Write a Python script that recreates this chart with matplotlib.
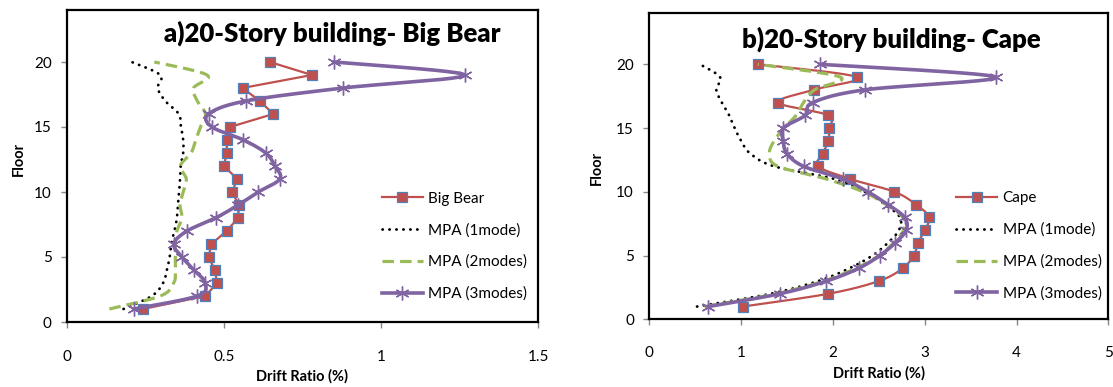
import numpy as np
import matplotlib
matplotlib.use("Agg")
import matplotlib.pyplot as plt
from matplotlib.lines import Line2D

plt.rcParams['font.family'] = ['Lato', 'DejaVu Sans']

floors = list(range(1, 21))

# a) Big Bear (floor 1 .. 20)
bigbear = [0.242, 0.441, 0.478, 0.471, 0.451, 0.46, 0.508, 0.545, 0.547, 0.526,
           0.542, 0.5, 0.508, 0.51, 0.519, 0.657, 0.614, 0.559, 0.78, 0.646]
mpa1_a = [0.18, 0.27, 0.306, 0.318, 0.327, 0.332, 0.342, 0.35, 0.353, 0.357,
          0.36, 0.362, 0.37, 0.37, 0.363, 0.356, 0.313, 0.289, 0.297, 0.206]
mpa2_a = [0.135, 0.297, 0.34, 0.345, 0.345, 0.345, 0.35, 0.366, 0.36, 0.37,
          0.38, 0.361, 0.395, 0.41, 0.425, 0.441, 0.415, 0.403, 0.446, 0.278]
mpa3_a = [0.213, 0.415, 0.44, 0.404, 0.366, 0.34, 0.382, 0.473, 0.545, 0.609,
          0.678, 0.662, 0.633, 0.562, 0.462, 0.451, 0.569, 0.879, 1.266, 0.849]

# b) Cape (floor 1 .. 20)
cape = [1.017, 1.95, 2.50, 2.76, 2.88, 2.93, 3.0, 3.05, 2.905, 2.67,
        2.19, 1.84, 1.89, 1.95, 1.96, 1.95, 1.405, 1.79, 2.26, 1.18]
mpa1_b = [0.52, 1.32, 1.84, 2.18, 2.43, 2.6, 2.72, 2.73, 2.57, 2.35,
          2.02, 1.36, 1.1, 1.0, 0.93, 0.87, 0.79, 0.73, 0.77, 0.55]
mpa2_b = [0.6, 1.38, 1.9, 2.25, 2.5, 2.66, 2.77, 2.76, 2.58, 2.33,
          1.93, 1.40, 1.31, 1.36, 1.47, 1.6, 1.68, 1.8, 2.08, 1.18]
mpa3_b = [0.643, 1.42, 1.93, 2.28, 2.51, 2.68, 2.8, 2.78, 2.60, 2.38,
          2.11, 1.68, 1.5, 1.46, 1.46, 1.70, 1.78, 2.35, 3.777, 1.86]

labels_a = ['Big Bear', 'MPA (1mode)', 'MPA (2modes)', 'MPA (3modes)']
labels_b = ['Cape', 'MPA (1mode)', 'MPA (2modes)', 'MPA (3modes)']
titles = ['a)20-Story building- Big Bear', 'b)20-Story building- Cape']
xticks_a = [0, 0.5, 1, 1.5]
xticks_b = [0, 1, 2, 3, 4, 5]
yticks = [0, 5, 10, 15, 20]

RED = '#C0504D'
BLUE = '#4F81BD'
GREEN = '#9BBB59'
PURPLE = '#8064A2'

W, H = 1113, 387
fig = plt.figure(figsize=(W / 100, H / 100), dpi=100)


def smooth(ax, xs, ys, n=24):
    pts = ax.transData.transform(np.column_stack([xs, ys]))
    P = np.vstack([pts[0], pts, pts[-1]])
    out = []
    t = np.linspace(0, 1, n, endpoint=False)[:, None]
    for i in range(1, len(P) - 2):
        p0, p1, p2, p3 = P[i - 1], P[i], P[i + 1], P[i + 2]
        seg = 0.5 * ((2 * p1) + (-p0 + p2) * t + (2 * p0 - 5 * p1 + 4 * p2 - p3) * t ** 2
                     + (-p0 + 3 * p1 - 3 * p2 + p3) * t ** 3)
        out.append(seg)
    out.append(pts[-1][None])
    out = np.vstack(out)
    d = ax.transData.inverted().transform(out)
    return d[:, 0], d[:, 1]


star = (6, 2, 0)
styles = [
    dict(color=RED, lw=1.6, marker='s', ms=6.5, mfc=RED, mec=BLUE, mew=0.9),
    dict(color='black', lw=2.0, ls=(0, (0.1, 2.4)), dash_capstyle='round'),
    dict(color=GREEN, lw=2.3, ls=(0, (3.6, 1.9))),
    dict(color=PURPLE, lw=2.6, marker=star, ms=10, mec=PURPLE, mew=1.0),
]


def panel(rect, xlim, xticks, series, smooth_flags, labels, title, title_xy,
          leg_anchor, xtick_pad, ytick_pad, xlabel_y, ylabel_xy):
    ax = fig.add_axes(rect)
    ax.set_xlim(*xlim)
    ax.set_ylim(0, 24)
    ax.set_xticks(xticks)
    ax.set_xticklabels([('%g' % v) for v in xticks])
    ax.set_yticks(yticks)
    for sp in ax.spines.values():
        sp.set_linewidth(1.6)
        sp.set_color('black')
    ax.tick_params(axis='x', direction='out', length=4, width=1, color='#888888',
                   pad=xtick_pad, labelsize=11)
    ax.tick_params(axis='y', direction='out', length=4, width=1, color='#888888',
                   pad=ytick_pad, labelsize=11)
    handles = []
    for i, (vals, st, sm) in enumerate(zip(series, styles, smooth_flags)):
        z = 2 + i
        line_kw = {k: v for k, v in st.items() if k in ('color', 'lw', 'ls', 'dash_capstyle')}
        if sm:
            sx, sy = smooth(ax, vals, floors)
        else:
            sx, sy = vals, floors
        ax.plot(sx, sy, zorder=z, solid_capstyle='round', **line_kw)
        if 'marker' in st:
            ax.plot(vals, floors, ls='none', marker=st['marker'], ms=st['ms'],
                    mfc=st.get('mfc', 'none'), mec=st['mec'], mew=st['mew'], zorder=z + 0.5)
        handles.append(Line2D([], [], **st))
    ax.legend(handles, labels, loc='upper left', bbox_to_anchor=leg_anchor,
              frameon=False, fontsize=11, handlelength=2.7, handletextpad=0.35,
              labelspacing=1.14, borderpad=0, borderaxespad=0, numpoints=1)
    ax.text(title_xy[0], title_xy[1], title, transform=ax.transAxes, ha='center',
            va='center', fontsize=18.5, fontweight='heavy')
    ax.set_xlabel('Drift Ratio (%)', fontsize=10.5, fontweight='bold')
    ax.xaxis.set_label_coords(0.5, xlabel_y)
    ax.set_ylabel('Floor', fontsize=10.5, fontweight='bold')
    ax.yaxis.set_label_coords(*ylabel_xy)
    return ax


panel([67 / W, 1 - 322 / H, 471 / W, 312 / H], (0, 1.5), xticks_a,
      [bigbear, mpa1_a, mpa2_a, mpa3_a], [False, True, True, True], labels_a,
      titles[0], (0.563, 0.925), (0.668, 0.418), 16, 7, -0.151, (-0.088, 0.522))

panel([649.3 / W, 1 - 319.3 / H, 459 / W, 306 / H], (0, 5), xticks_b,
      [cape, mpa1_b, mpa2_b, mpa3_b], [True, True, True, True], labels_b,
      titles[1], (0.528, 0.915), (0.668, 0.418), 15, 7, -0.153, (-0.099, 0.494))

fig.savefig('out.png', dpi=100)
